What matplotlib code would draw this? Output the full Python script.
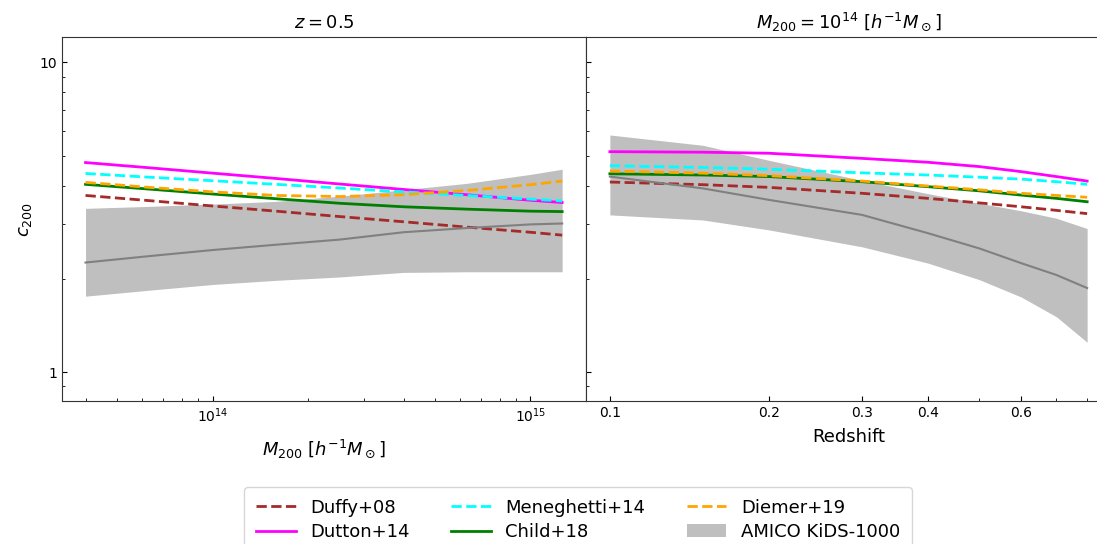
import numpy as np
import matplotlib
matplotlib.use("Agg")
import matplotlib.pyplot as plt

# ---------------- data ----------------
# left panel: concentration vs mass at z=0.5
logM = [13.6, 13.8, 14.0, 14.2, 14.4, 14.6, 14.8, 15.0, 15.1]
duffy_m = [3.72, 3.58, 3.44, 3.31, 3.18, 3.06, 2.94, 2.83, 2.77]
dutton_m = [4.75, 4.57, 4.39, 4.22, 4.05, 3.89, 3.74, 3.59, 3.53]
meneghetti_m = [4.38, 4.26, 4.15, 4.04, 3.93, 3.82, 3.72, 3.62, 3.57]
child_m = [4.04, 3.90, 3.76, 3.63, 3.51, 3.42, 3.36, 3.31, 3.30]
diemer_m = [4.10, 3.95, 3.82, 3.72, 3.69, 3.74, 3.86, 4.03, 4.14]
amico_m = [2.26, 2.37, 2.48, 2.58, 2.68, 2.83, 2.92, 3.00, 3.02]
amico_m_hi = [3.38, 3.43, 3.49, 3.56, 3.70, 3.88, 4.07, 4.35, 4.52]
amico_m_lo = [1.76, 1.84, 1.92, 1.98, 2.03, 2.10, 2.11, 2.11, 2.11]

# right panel: concentration vs redshift at M200 = 1e14
z = [0.1, 0.15, 0.2, 0.3, 0.4, 0.5, 0.6, 0.7, 0.8]
duffy_z = [4.11, 4.03, 3.95, 3.78, 3.64, 3.52, 3.42, 3.33, 3.25]
dutton_z = [5.15, 5.13, 5.09, 4.90, 4.76, 4.61, 4.44, 4.28, 4.14]
meneghetti_z = [4.64, 4.58, 4.52, 4.40, 4.33, 4.26, 4.20, 4.12, 4.04]
child_z = [4.37, 4.33, 4.28, 4.12, 3.97, 3.85, 3.73, 3.64, 3.55]
diemer_z = [4.46, 4.39, 4.31, 4.14, 3.99, 3.88, 3.78, 3.72, 3.67]
amico_z = [4.28, 3.92, 3.60, 3.22, 2.81, 2.51, 2.25, 2.06, 1.87]
amico_z_hi = [5.83, 5.40, 4.83, 4.16, 3.77, 3.51, 3.32, 3.14, 2.91]
amico_z_lo = [3.22, 3.10, 2.88, 2.54, 2.25, 1.99, 1.75, 1.51, 1.25]

z_ticks = [0.1, 0.2, 0.3, 0.4, 0.6]
z_ticklabels = ["0.1", "0.2", "0.3", "0.4", "0.6"]

labels = ["Duffy+08", "Dutton+14", "Meneghetti+14", "Child+18", "Diemer+19", "AMICO KiDS-1000"]

# ---------------- figure ----------------
W, H = 1097, 544
fig = plt.figure(figsize=(W / 100, H / 100), dpi=100)
axL = fig.add_axes([61.7 / W, 1 - 401.3 / H, 524.3 / W, 364.6 / H])
axR = fig.add_axes([586 / W, 1 - 401.3 / H, 525 / W, 364.6 / H], sharey=axL)

M = 10 ** np.array(logM)


def draw(ax, x, duffy, dutton, mene, child, diemer, amico, lo, hi):
    h = []
    h.append(ax.plot(x, duffy, ls="--", color="brown", lw=2)[0])
    h.append(ax.plot(x, dutton, ls="-", color="magenta", lw=2)[0])
    h.append(ax.plot(x, mene, ls="--", color="cyan", lw=2)[0])
    h.append(ax.plot(x, child, ls="-", color="green", lw=2)[0])
    h.append(ax.plot(x, diemer, ls="--", color="orange", lw=2)[0])
    h.append(ax.fill_between(x, lo, hi, color="gray", alpha=0.5, lw=0))
    ax.plot(x, amico, color="gray", lw=1.5)
    return h


handles = draw(axL, M, duffy_m, dutton_m, meneghetti_m, child_m, diemer_m,
               amico_m, amico_m_lo, amico_m_hi)
draw(axR, z, duffy_z, dutton_z, meneghetti_z, child_z, diemer_z,
     amico_z, amico_z_lo, amico_z_hi)

for ax in (axL, axR):
    ax.set_xscale("log")
    ax.set_yscale("log")
    ax.tick_params(which="both", direction="in", labelsize=10)
    for s in ax.spines.values():
        s.set_color("#333333")

axL.set_ylim(0.806, 12.1)
axL.set_yticks([1, 10])
axL.set_yticklabels(["1", "10"])
axL.set_ylabel(r"$c_{200}$", fontsize=13)
axL.set_xlabel(r"$M_{200}\ [h^{-1}M_\odot]$", fontsize=13, labelpad=9)
axL.set_title(r"$z = 0.5$", fontsize=13)

axR.set_xticks(z_ticks)
axR.set_xticklabels(z_ticklabels)
axR.tick_params(axis="y", labelleft=False)
axR.set_xlabel("Redshift", fontsize=13, labelpad=6)
axR.set_title(r"$M_{200} = 10^{14}\ [h^{-1}M_\odot]$", fontsize=13)

fig.legend(handles, labels, ncol=3, loc="upper center",
           bbox_to_anchor=(578 / W, 1 - 487 / H), fontsize=13,
           borderaxespad=0, handlelength=2.2, columnspacing=2.3,
           handletextpad=0.8, labelspacing=0.35, borderpad=0.65)

fig.savefig("out.png", dpi=100)
